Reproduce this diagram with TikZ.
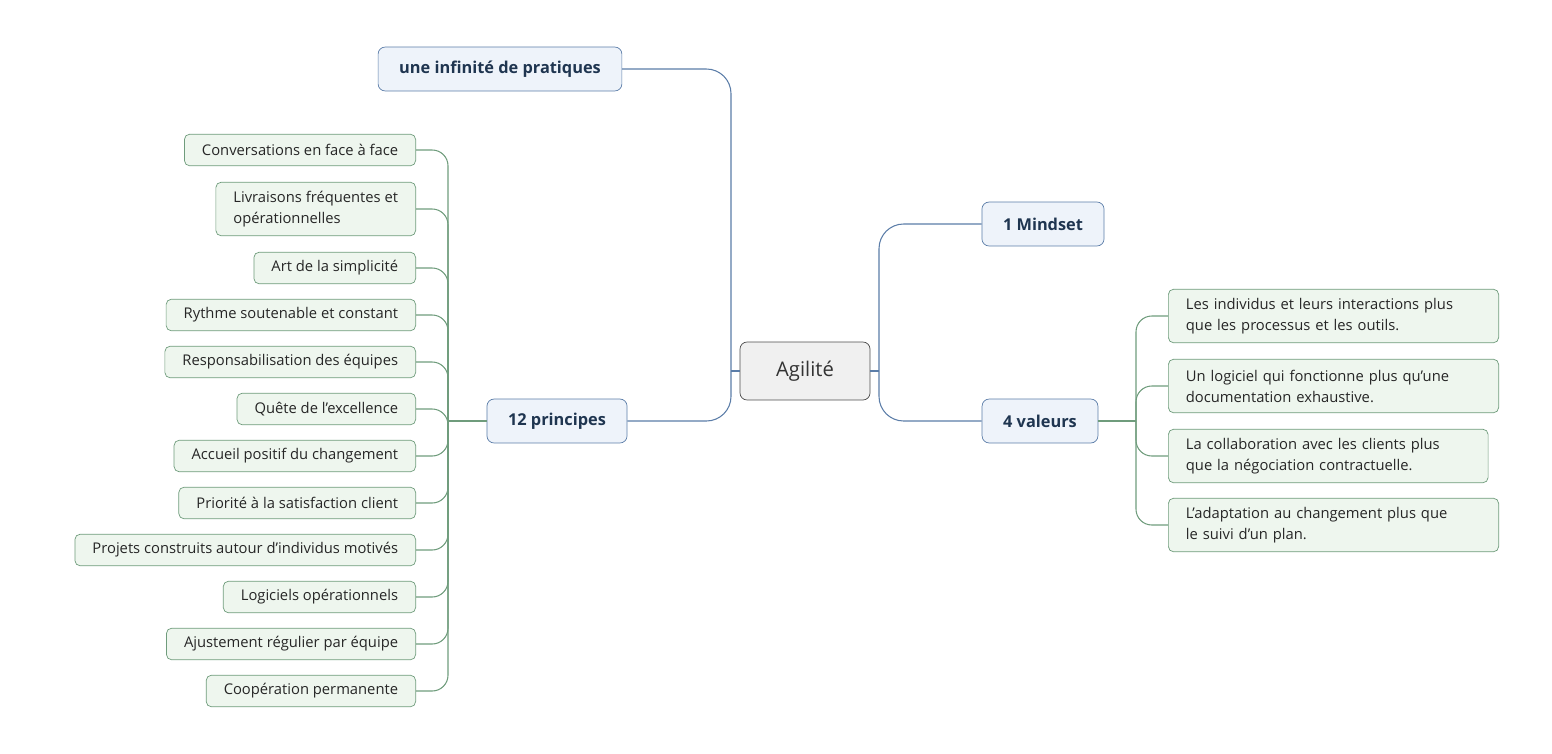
\documentclass[tikz,border=0pt]{standalone}
\usepackage{fontspec}
\setmainfont{Open Sans}
\usetikzlibrary{positioning}
\definecolor{trunkblue}{HTML}{5B7DA8}
\definecolor{leafgreen}{HTML}{6F9C7C}
\definecolor{textblue}{HTML}{1F3550}
\definecolor{fondbleu}{HTML}{EEF3FA}
\definecolor{fondvert}{HTML}{EEF6EE}
\begin{document}
\begin{tikzpicture}[
    x=0.02cm, y=-0.02cm,
    % Styles des noeuds
    centre/.style={
        rectangle, draw=black!70, fill=black!6, rounded corners=4pt,
        minimum width=74pt, minimum height=33pt,
        font=\fontsize{11.5}{13}\selectfont, text=black!80
    },
    branche/.style={
        rectangle, draw=trunkblue, fill=fondbleu, rounded corners=4pt,
        minimum height=25pt, inner xsep=12pt,
        font=\fontsize{9.3}{11}\selectfont\bfseries, text=textblue
    },
    feuille/.style={
        rectangle, draw=leafgreen, fill=fondvert, rounded corners=3pt,
        minimum height=18pt, inner xsep=10pt, align=left,
        font=\fontsize{8.4}{12}\selectfont, text=black!85
    },
    valeur/.style={
        feuille, anchor=west, minimum height=30.5pt, text width=168pt
    },
    lienbleu/.style={draw=trunkblue, line width=0.6pt, rounded corners=9pt},
    lienvert/.style={draw=leafgreen, line width=0.6pt, rounded corners=9pt}
]
\useasboundingbox (0,0) rectangle (1552,754);

% Noeud central
\node[centre] (agil) at (805,371) {Agilité};

% Branches
\node[branche] (prat) at (500,69) {une infinité de pratiques};
\node[branche] (princ) at (557,421) {12 principes};
\node[branche] (mind) at (1043,224) {1 Mindset};
\node[branche] (val) at (1040,421) {4 valeurs};

% Jonctions
\coordinate (jg) at (731,371);
\coordinate (jd) at (879,371);
\coordinate (jp) at (448,421);
\coordinate (jv) at (1136,421);

% 12 principes
\node[feuille, anchor=east] (p1) at (416,150) {Conversations en face à face};
\node[feuille, anchor=east, minimum height=30.5pt] (p2) at (416,209) {Livraisons fréquentes et\\opérationnelles};
\node[feuille, anchor=east] (p3) at (416,268) {Art de la simplicité};
\node[feuille, anchor=east] (p4) at (416,315) {Rythme soutenable et constant};
\node[feuille, anchor=east] (p5) at (416,362) {Responsabilisation des équipes};
\node[feuille, anchor=east] (p6) at (416,409) {Quête de l'excellence};
\node[feuille, anchor=east] (p7) at (416,456) {Accueil positif du changement};
\node[feuille, anchor=east] (p8) at (416,503) {Priorité à la satisfaction client};
\node[feuille, anchor=east] (p9) at (416,550) {Projets construits autour d'individus motivés};
\node[feuille, anchor=east] (p10) at (416,597) {Logiciels opérationnels};
\node[feuille, anchor=east] (p11) at (416,644) {Ajustement régulier par équipe};
\node[feuille, anchor=east] (p12) at (416,691) {Coopération permanente};

% 4 valeurs
\node[valeur] (v1) at (1168,316) {Les individus et leurs interactions plus\\que les processus et les outils.};
\node[valeur] (v2) at (1168,386) {Un logiciel qui fonctionne plus qu’une\\documentation exhaustive.};
\node[valeur, text width=162pt] (v3) at (1168,456) {La collaboration avec les clients plus\\que la négociation contractuelle.};
\node[valeur] (v4) at (1168,525) {L’adaptation au changement plus que\\le suivi d’un plan.};

% Connexions
\draw[lienbleu, rounded corners=0pt] (agil.west) -- (jg);
\draw[lienbleu, rounded corners=0pt] (agil.east) -- (jd);
\draw[lienbleu, rounded corners=14pt] (jg) |- (prat.east);
\draw[lienbleu, rounded corners=14pt] (jg) |- (princ.east);
\draw[lienbleu, rounded corners=14pt] (jd) |- (mind.west);
\draw[lienbleu, rounded corners=14pt] (jd) |- (val.west);

\draw[lienvert, rounded corners=0pt] (princ.west) -- (jp);
\foreach \n in {1,...,12}
    \draw[lienvert] (jp) |- (p\n.east);

\draw[lienvert, rounded corners=0pt] (val.east) -- (jv);
\foreach \n in {1,...,4}
    \draw[lienvert] (jv) |- (v\n.west);

\end{tikzpicture}
\end{document}
